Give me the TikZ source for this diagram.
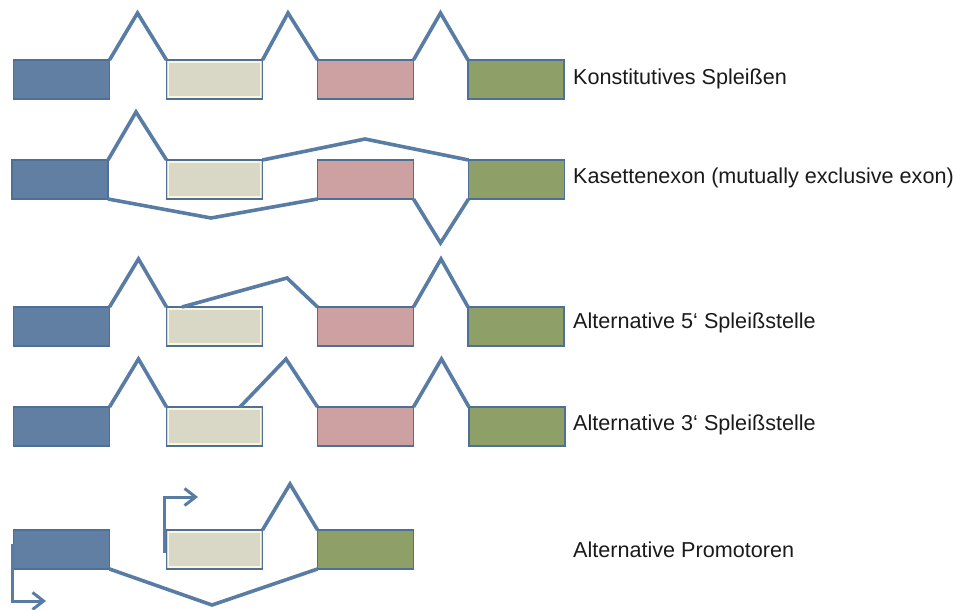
\documentclass[tikz,border=0pt]{standalone}
\usepackage{fontspec}
\setmainfont{Liberation Sans}
\usetikzlibrary{arrows.meta}
\definecolor{exonblue}{HTML}{617FA3}
\definecolor{exonbeige}{HTML}{D9D7C5}
\definecolor{exoncream}{HTML}{FBF7DC}
\definecolor{exonpink}{HTML}{CDA1A1}
\definecolor{exongreen}{HTML}{8EA067}
\definecolor{edgeblue}{HTML}{4F7096}
\definecolor{intronblue}{HTML}{587CA3}
\definecolor{labeltext}{HTML}{1A1A1A}
\tikzset{
  exon/.style={draw=edgeblue, line width=1.6pt, minimum width=96pt, minimum height=39pt,
    inner sep=0pt, outer sep=0pt, rectangle},
  exA/.style={exon, fill=exonblue},
  exB/.style={exon, fill=exonbeige,
    path picture={\draw[exoncream, line width=1.4pt]
      ([shift={(2pt,-2pt)}]path picture bounding box.north west) rectangle
      ([shift={(-2pt,2pt)}]path picture bounding box.south east);}},
  exC/.style={exon, fill=exonpink},
  exD/.style={exon, fill=exongreen},
  intron/.style={draw=intronblue, line width=3.6pt, line join=miter},
  promoter/.style={draw=intronblue, line width=3pt,
    -{Straight Barb[length=11pt, width=17pt, line width=3pt]}},
  rowlabel/.style={anchor=west, inner sep=0pt, text=labeltext, font=\fontsize{21.6pt}{24pt}\selectfont}
}
\begin{document}
\begin{tikzpicture}[x=1pt, y=-1pt]
\useasboundingbox (0,0) rectangle (956,610);

% --- constitutive splicing
\coordinate (p1a) at (137.5,13);
\coordinate (p1b) at (288,13);
\coordinate (p1c) at (440.5,13);
\node[exA] (r1a) at (61.5,79.5) {};
\node[exB] (r1b) at (214.5,79.5) {};
\node[exC] (r1c) at (365.5,79.5) {};
\node[exD] (r1d) at (516,79.5) {};
\draw[intron] (r1a.north east) -- (p1a) -- (r1b.north west);
\draw[intron] (r1b.north east) -- (p1b) -- (r1c.north west);
\draw[intron] (r1c.north east) -- (p1c) -- (r1d.north west);
\node[rowlabel] (l1) at (573,79) {Konstitutives Spleißen};

% --- cassette exon
\coordinate (p2a) at (136,112);
\coordinate (p2b) at (365,139);
\coordinate (p2c) at (211,218);
\coordinate (p2d) at (440.5,243);
\node[exA] (r2a) at (60,179.5) {};
\node[exB] (r2b) at (214.5,179.5) {};
\node[exC] (r2c) at (365.5,179.5) {};
\node[exD] (r2d) at (516.5,179.5) {};
\draw[intron] (r2a.north east) -- (p2a) -- (r2b.north west);
\draw[intron] (r2b.north east) -- (p2b) -- (r2d.north west);
\draw[intron] (r2a.south east) -- (p2c) -- (r2c.south west);
\draw[intron] (r2c.south east) -- (p2d) -- (r2d.south west);
\node[rowlabel] (l2) at (573,178) {Kasettenexon (mutually exclusive exon)};

% --- alternative 5' splice site
\coordinate (p3a) at (138.5,259);
\coordinate (p3b) at (287,278);
\coordinate (p3c) at (441,259);
\node[exA] (r3a) at (61.5,326.5) {};
\node[exB] (r3b) at (214.5,326.5) {};
\node[exC] (r3c) at (365.5,326.5) {};
\node[exD] (r3d) at (516,326.5) {};
\coordinate (s3) at (182,307);
\draw[intron] (r3a.north east) -- (p3a) -- (r3b.north west);
\draw[intron] (s3) -- (p3b) -- (r3c.north west);
\draw[intron] (r3c.north east) -- (p3c) -- (r3d.north west);
\node[rowlabel] (l3) at (573,323) {Alternative 5‘ Spleißstelle};

% --- alternative 3' splice site
\coordinate (p4a) at (138.5,359);
\coordinate (p4b) at (286,359);
\coordinate (p4c) at (441.5,359);
\node[exA] (r4a) at (61.5,426.5) {};
\node[exB] (r4b) at (214.5,426.5) {};
\node[exC] (r4c) at (365.5,426.5) {};
\node[exD] (r4d) at (517,426.5) {};
\coordinate (s4) at (240,407);
\draw[intron] (r4a.north east) -- (p4a) -- (r4b.north west);
\draw[intron] (s4) -- (p4b) -- (r4c.north west);
\draw[intron] (r4c.north east) -- (p4c) -- (r4d.north west);
\node[rowlabel] (l4) at (573,425) {Alternative 3‘ Spleißstelle};

% --- alternative promoters
\coordinate (p5a) at (290,484);
\coordinate (p5b) at (212,605);
\node[exA] (r5a) at (61.5,549.5) {};
\node[exB] (r5b) at (214.5,549.5) {};
\node[exD] (r5c) at (365.5,549.5) {};
\draw[intron] (r5b.north east) -- (p5a) -- (r5c.north west);
\draw[intron] (r5a.south east) -- (p5b) -- (r5c.south west);
\coordinate (q5b) at (164,553);
\coordinate (t5b) at (198,497);
\coordinate (q5a) at (12,544);
\coordinate (t5a) at (46,601);
\draw[promoter] (q5b) |- (t5b);
\draw[promoter] (q5a) |- (t5a);
\node[rowlabel] (l5) at (573,550) {Alternative Promotoren};
\end{tikzpicture}
\end{document}
